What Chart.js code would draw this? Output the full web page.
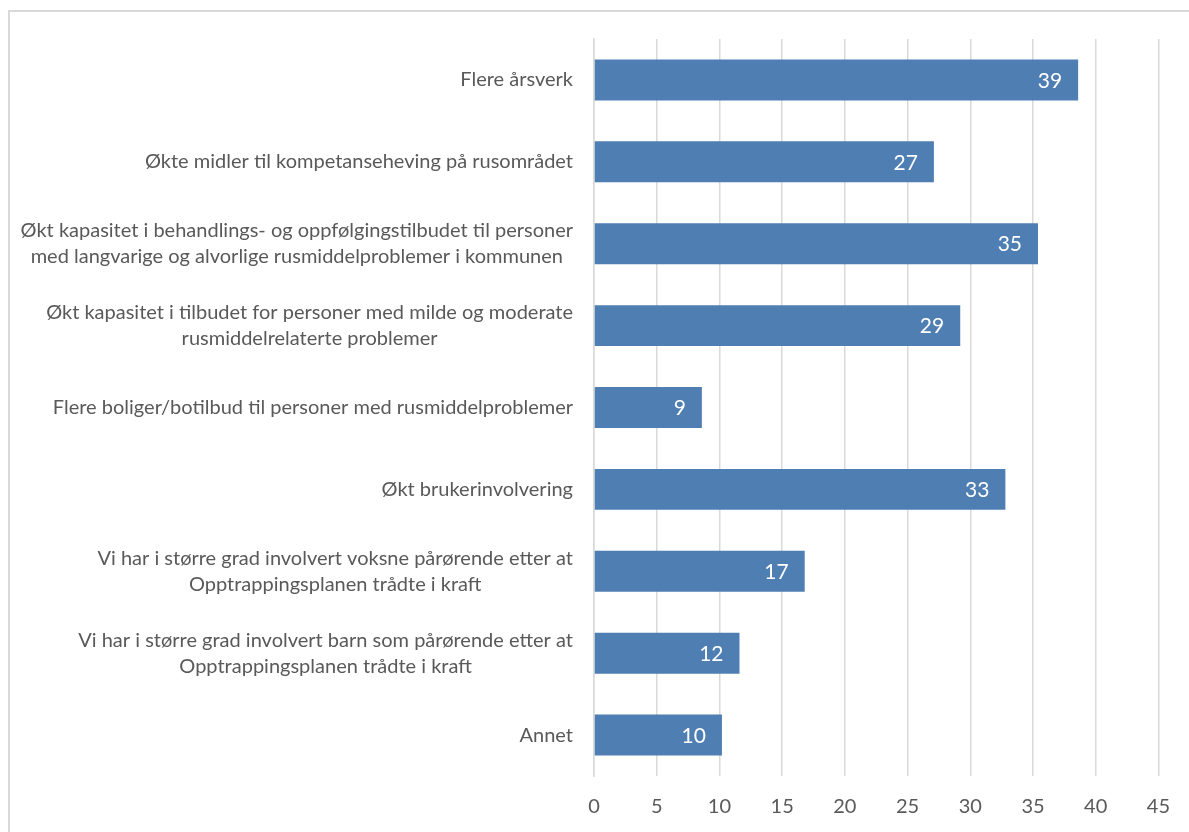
<!DOCTYPE html>
<html>
<head>
<meta charset="utf-8">
<script src="https://cdn.jsdelivr.net/npm/chart.js@4/dist/chart.umd.min.js"></script>
<style>
  html, body { margin: 0; padding: 0; background: #fff; }
  #wrap { position: relative; width: 1189px; height: 832px; overflow: hidden; }
  #frame { position: absolute; left: 8px; top: 10px; width: 1300px; height: 900px;
           border-left: 2px solid #d9d9d9; border-top: 2px solid #d9d9d9; }
  #mycanvas { position: absolute; left: 0; top: 0; }
</style>
</head>
<body>
<div id="wrap">
  <div id="frame"></div>
  <canvas id="mycanvas" width="1189" height="832"></canvas>
</div>
<script>
// categories (each entry = lines of the label)
var categories = [
  ["Flere årsverk"],
  ["Økte midler til kompetanseheving på rusområdet"],
  ["Økt kapasitet i behandlings- og oppfølgingstilbudet til personer", "med langvarige og alvorlige rusmiddelproblemer i kommunen"],
  ["Økt kapasitet i tilbudet for personer med milde og moderate", "rusmiddelrelaterte problemer"],
  ["Flere boliger/botilbud til personer med rusmiddelproblemer"],
  ["Økt brukerinvolvering"],
  ["Vi har i større grad involvert voksne pårørende etter at", "Opptrappingsplanen trådte i kraft"],
  ["Vi har i større grad involvert barn som pårørende etter at", "Opptrappingsplanen trådte i kraft"],
  ["Annet"]
];
var values = [38.6, 27.1, 35.4, 29.2, 8.6, 32.8, 16.8, 11.6, 10.2];
var shownValues = ["39", "27", "35", "29", "9", "33", "17", "12", "10"];
var xTicks = [0, 5, 10, 15, 20, 25, 30, 35, 40, 45];

var font = "Lato, 'Open Sans', sans-serif";

// draws the category labels (right aligned block, lines centred) and value labels
var labelPlugin = {
  id: 'labelPlugin',
  afterDraw: function(chart) {
    var ctx = chart.ctx;
    var y = chart.scales.y;
    ctx.save();
    ctx.font = "20px " + font;
    ctx.fillStyle = "#595959";
    ctx.textBaseline = "middle";
    ctx.textAlign = "center";
    var right = chart.chartArea.left - 21;
    var lh = 26;
    for (var i = 0; i < categories.length; i++) {
      var lines = categories[i];
      var maxW = 0;
      for (var j = 0; j < lines.length; j++) {
        maxW = Math.max(maxW, ctx.measureText(lines[j]).width);
      }
      var cx = right - maxW / 2;
      var cy = y.getPixelForTick(i);
      var y0 = cy - (lines.length - 1) * lh / 2;
      for (var j = 0; j < lines.length; j++) {
        ctx.fillText(lines[j], cx, y0 + j * lh);
      }
    }
    // value labels inside bar end
    var meta = chart.getDatasetMeta(0);
    ctx.font = "21px " + font;
    ctx.fillStyle = "#ffffff";
    ctx.textAlign = "right";
    meta.data.forEach(function(bar, i) {
      ctx.fillText(shownValues[i], bar.x - 16, bar.y + 1);
    });
    ctx.restore();
  }
};

var ctx = document.getElementById("mycanvas");
var chart = new Chart(ctx, {
  type: 'bar',
  data: {
    labels: categories,
    datasets: [{
      data: values,
      backgroundColor: '#4f7eb3',
      borderWidth: 0,
      barPercentage: 0.5,
      categoryPercentage: 1.0
    }]
  },
  options: {
    indexAxis: 'y',
    responsive: false,
    animation: false,
    events: [],
    layout: { padding: { left: 0, right: 30, top: 39, bottom: 0 } },
    plugins: { legend: { display: false }, tooltip: { enabled: false } },
    scales: {
      x: {
        min: 0,
        max: 45,
        afterBuildTicks: function(scale) {
          scale.ticks = xTicks.map(function(v) { return { value: v }; });
        },
        afterFit: function(scale) { scale.height = 56; },
        grid: { color: '#d9d9d9', lineWidth: 1.5, drawTicks: false },
        border: { display: false },
        ticks: { color: '#595959', font: { size: 20, family: font }, padding: 19 }
      },
      y: {
        afterFit: function(scale) { scale.width = 594; },
        grid: { display: false, drawTicks: false },
        border: { display: true, color: '#d9d9d9', width: 1.5 },
        ticks: { display: false }
      }
    }
  },
  plugins: [labelPlugin]
});
</script>
</body>
</html>
